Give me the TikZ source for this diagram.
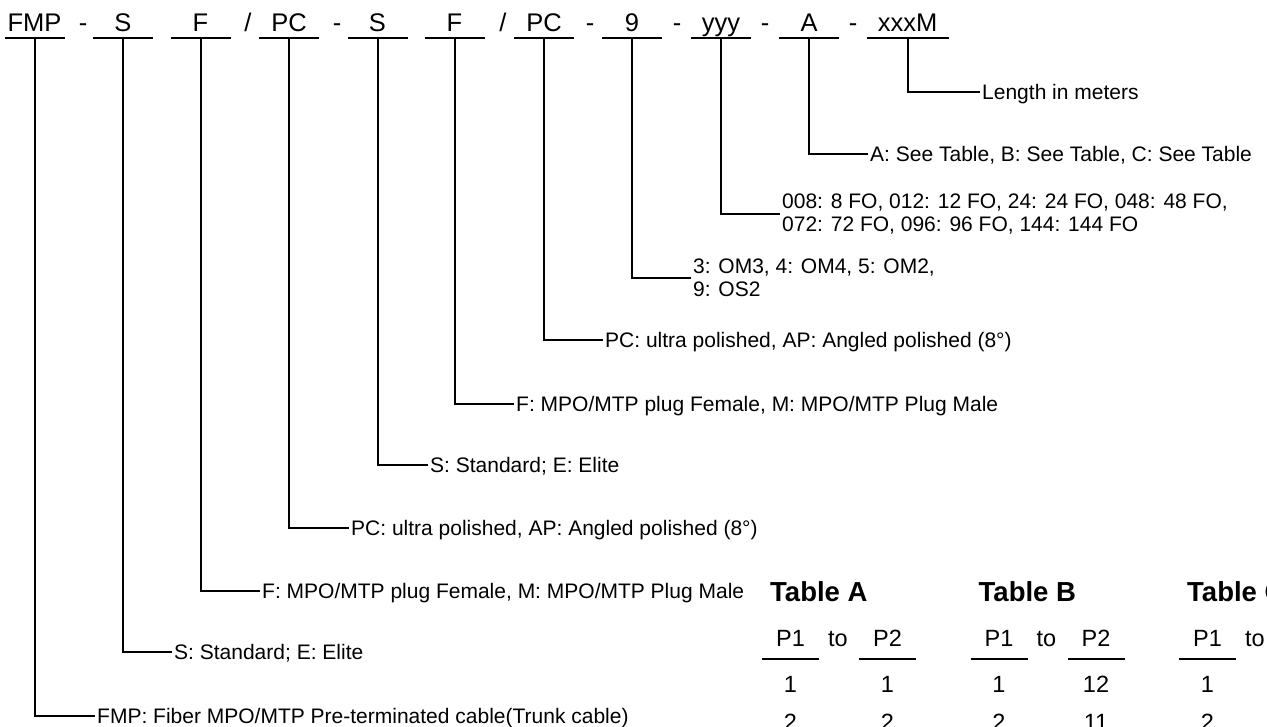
\documentclass[tikz,border=0pt]{standalone}
\usepackage{fontspec}
\setmainfont{Liberation Sans}
\newcommand\codefont{\fontsize{25.5}{30}\selectfont}
\newcommand\notefont{\fontsize{21}{22.5}\selectfont}
\newcommand\titlefont{\fontsize{27.5}{32}\selectfont\bfseries}
\newcommand\cellfont{\fontsize{23.5}{28}\selectfont}

\tikzset{
  code/.style={anchor=base, inner sep=0pt, font=\codefont},
  note/.style={anchor=west, inner xsep=2pt, inner ysep=0pt, font=\notefont,
               text height=15pt, text depth=0pt},
  twoline/.style={anchor=west, inner xsep=2pt, inner ysep=0pt, font=\notefont,
                  align=left},
  lead/.style={line width=2pt},
  rule/.style={line width=2.2pt},
  cell/.style={anchor=base, inner sep=0pt, font=\cellfont},
  tabtitle/.style={anchor=base west, inner sep=0pt, font=\titlefont}
}

\begin{document}
\begin{tikzpicture}[x=1pt, y=-1pt]
  \useasboundingbox (0,0) rectangle (1267,727);

  % part number
  \foreach \n/\t/\c/\w in {fmp/FMP/34.5/60, s1/S/123/60, f1/F/200.5/60,
      pc1/PC/289/60, s2/S/377.5/60, f2/F/454.5/60, pc2/PC/544/60,
      fib/9/632/60, cnt/yyy/721/60, tab/A/809/60, len/xxxM/907.5/82} {
    \node[code] (\n) at (\c,32) {\t};
    \coordinate (\n-u) at (\c,38);
    \draw[rule] ([xshift=-\w/2]\n-u) -- ([xshift=\w/2]\n-u);
  }
  \foreach \x [count=\i] in {83,337,590,677,765,853}
    \node[code] (dash\i) at (\x,32) {-};
  \foreach \x [count=\i] in {248,503}
    \node[code] (slash\i) at (\x,32) {/};

  % meaning of each part
  \node[note] (d-len) at (980,92) {Length in meters};
  \node[note] (d-tab) at (868,154) {A: See Table, B: See Table, C: See Table};
  \node[twoline] (d-cnt) at (780,214) {008: 8 FO, 012: 12 FO, 24: 24 FO, 048: 48 FO,\\072: 72 FO, 096: 96 FO, 144: 144 FO};
  \node[twoline] (d-fib) at (691,278) {3: OM3, 4: OM4, 5: OM2,\\9: OS2};
  \node[note] (d-pc2) at (603,340) {PC: ultra polished, AP: Angled polished (8°)};
  \node[note] (d-f2) at (514,404) {F: MPO/MTP plug Female, M: MPO/MTP Plug Male};
  \node[note] (d-s2) at (428,465) {S: Standard; E: Elite};
  \node[note] (d-pc1) at (349,528) {PC: ultra polished, AP: Angled polished (8°)};
  \node[note] (d-f1) at (260,591) {F: MPO/MTP plug Female, M: MPO/MTP Plug Male};
  \node[note] (d-s1) at (172,652) {S: Standard; E: Elite};
  \node[note] (d-fmp) at (95,716) {FMP: Fiber MPO/MTP Pre-terminated cable(Trunk cable)};

  \foreach \n in {fmp,s1,f1,pc1,s2,f2,pc2,fib,cnt,tab,len}
    \draw[lead] (\n-u) |- (d-\n.west);

  % pin tables
  \foreach \t/\ox/\ra/\rb in {A/0/1/2, B/208.5/12/11} {
    \begin{scope}[xshift=\ox]
      \node[tabtitle] (tab\t-title) at (770,601) {Table \t};
      \node[cell] (tab\t-p1) at (790.5,646) {P1};
      \node[cell] (tab\t-to) at (838,646) {to};
      \node[cell] (tab\t-p2) at (887.5,646) {P2};
      \draw[rule] (762,659) -- (819,659) (859,659) -- (916,659);
      \node[cell] (tab\t-a1) at (790.5,692) {1};
      \node[cell] (tab\t-b1) at (887.5,692) {\ra};
      \node[cell] (tab\t-a2) at (790.5,730) {2};
      \node[cell] (tab\t-b2) at (887.5,730) {\rb};
    \end{scope}
  }
  \begin{scope}[xshift=417]
    \node[tabtitle] (tabC-title) at (770,601) {Table C};
    \node[cell] (tabC-p1) at (790.5,646) {P1};
    \node[cell] (tabC-to) at (838,646) {to};
    \draw[rule] (762,659) -- (819,659);
    \node[cell] (tabC-a1) at (790.5,692) {1};
    \node[cell] (tabC-a2) at (790.5,730) {2};
  \end{scope}
\end{tikzpicture}
\end{document}
